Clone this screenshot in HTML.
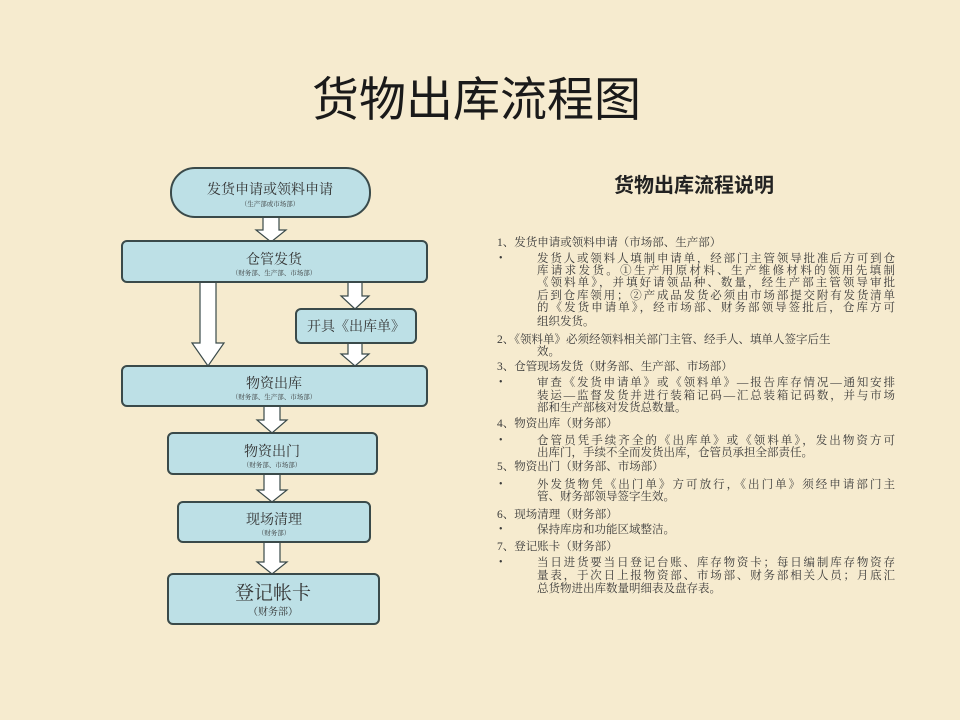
<!DOCTYPE html>
<html><head><meta charset="utf-8"><style>
body{margin:0;width:960px;height:720px;background:#f6ebcf;position:relative;overflow:hidden;font-family:"Liberation Serif","Noto Serif CJK SC",serif;color:#2a2a2a}
.t{position:absolute;white-space:nowrap}
.ln{position:absolute;left:537px;width:358px;font-size:11.5px;line-height:12px;height:12px;color:#3a3a3a;text-align:justify;text-align-last:justify;white-space:nowrap;overflow:visible}
.ln.l{text-align-last:left}
.h{position:absolute;left:497px;font-size:11.5px;line-height:12px;color:#3a3a3a;white-space:nowrap}
.b{position:absolute;left:499px;font-size:10px;line-height:12px;color:#3a3a3a}
</style></head><body>
<div class="t" style="left:312px;top:66px;font-size:47px;line-height:60px;font-family:'Noto Sans CJK SC',sans-serif;color:#1a1a1a">货物出库流程图</div>
<div class="t" style="left:614px;top:171px;font-size:20px;line-height:26px;font-weight:bold;font-family:'Noto Sans CJK SC',sans-serif;color:#222">货物出库流程说明</div>

<svg width="960" height="720" style="position:absolute;left:0;top:0" font-family="Noto Serif CJK SC,serif">
<defs><style>.bx{fill:#bde0e6;stroke:#3a4a4a;stroke-width:2}.ar{fill:#fff;stroke:#3a4a4a;stroke-width:1.2}</style></defs>
<polygon class="ar" points="263,217 279,217 279,230 286,230 271,242 256,230 263,230"/>
<polygon class="ar" points="200,282 216,282 216,343 224,343 208,366 192,343 200,343"/>
<polygon class="ar" points="348,282 362,282 362,296 369,296 355,309 341,296 348,296"/>
<polygon class="ar" points="348,343 362,343 362,354 369,354 355,366 341,354 348,354"/>
<polygon class="ar" points="264,406 280,406 280,420 287,420 272,433 257,420 264,420"/>
<polygon class="ar" points="264,474 280,474 280,490 287,490 272,502 257,490 264,490"/>
<polygon class="ar" points="264,542 280,542 280,562 287,562 272,574 257,562 264,562"/>
<rect class="bx" x="171" y="168" width="199" height="49" rx="24"/>
<rect class="bx" x="122" y="241" width="305" height="41" rx="5"/>
<rect class="bx" x="296" y="309" width="120" height="34" rx="5"/>
<rect class="bx" x="122" y="366" width="305" height="40" rx="5"/>
<rect class="bx" x="168" y="433" width="209" height="41" rx="5"/>
<rect class="bx" x="178" y="502" width="192" height="40" rx="5"/>
<rect class="bx" x="168" y="574" width="211" height="50" rx="5"/>
<g fill="#333" text-anchor="middle">
<text x="270" y="194" font-size="14">发货申请或领料申请</text>
<text x="270" y="206" font-size="6.5">（生产部或市场部）</text>
<text x="274" y="264" font-size="14">仓管发货</text>
<text x="274" y="275" font-size="6.5">（财务部、生产部、市场部）</text>
<text x="356" y="331" font-size="14">开具《出库单》</text>
<text x="274" y="388" font-size="14">物资出库</text>
<text x="274" y="399" font-size="6.5">（财务部、生产部、市场部）</text>
<text x="272" y="456" font-size="14">物资出门</text>
<text x="272" y="467" font-size="6.5">（财务部、市场部）</text>
<text x="274" y="524" font-size="14">现场清理</text>
<text x="274" y="535" font-size="6.5">（财务部）</text>
<text x="273" y="599" font-size="19">登记帐卡</text>
<text x="273" y="615" font-size="10">（财务部）</text>
</g></svg>

<div class="h" style="top:237px">1、发货申请或领料申请（市场部、生产部）</div>
<div class="b" style="top:253px">•</div>
<div class="ln" style="top:253px">发货人或领料人填制申请单，经部门主管领导批准后方可到仓</div>
<div class="ln" style="top:265px">库请求发货。①生产用原材料、生产维修材料的领用先填制</div>
<div class="ln" style="top:277px">《领料单》，并填好请领品种、数量，经生产部主管领导审批</div>
<div class="ln" style="top:290px">后到仓库领用；②产成品发货必须由市场部提交附有发货清单</div>
<div class="ln" style="top:302px">的《发货申请单》，经市场部、财务部领导签批后，仓库方可</div>
<div class="ln l" style="top:316px">组织发货。</div>
<div class="h" style="top:334px">2、《领料单》必须经领料相关部门主管、经手人、填单人签字后生</div>
<div class="ln l" style="top:346px">效。</div>
<div class="h" style="top:361px">3、仓管现场发货（财务部、生产部、市场部）</div>
<div class="b" style="top:377px">•</div>
<div class="ln" style="top:377px">审查《发货申请单》或《领料单》—报告库存情况—通知安排</div>
<div class="ln" style="top:390px">装运—监督发货并进行装箱记码—汇总装箱记码数，并与市场</div>
<div class="ln l" style="top:402px">部和生产部核对发货总数量。</div>
<div class="h" style="top:418px">4、物资出库（财务部）</div>
<div class="b" style="top:435px">•</div>
<div class="ln" style="top:435px">仓管员凭手续齐全的《出库单》或《领料单》，发出物资方可</div>
<div class="ln l" style="top:447px">出库门，手续不全而发货出库，仓管员承担全部责任。</div>
<div class="h" style="top:461px">5、物资出门（财务部、市场部）</div>
<div class="b" style="top:479px">•</div>
<div class="ln" style="top:479px">外发货物凭《出门单》方可放行，《出门单》须经申请部门主</div>
<div class="ln l" style="top:491px">管、财务部领导签字生效。</div>
<div class="h" style="top:509px">6、现场清理（财务部）</div>
<div class="b" style="top:524px">•</div>
<div class="ln l" style="top:524px">保持库房和功能区域整洁。</div>
<div class="h" style="top:541px">7、登记账卡（财务部）</div>
<div class="b" style="top:557px">•</div>
<div class="ln" style="top:557px">当日进货要当日登记台账、库存物资卡；每日编制库存物资存</div>
<div class="ln" style="top:570px">量表，于次日上报物资部、市场部、财务部相关人员；月底汇</div>
<div class="ln l" style="top:583px">总货物进出库数量明细表及盘存表。</div>
</body></html>
